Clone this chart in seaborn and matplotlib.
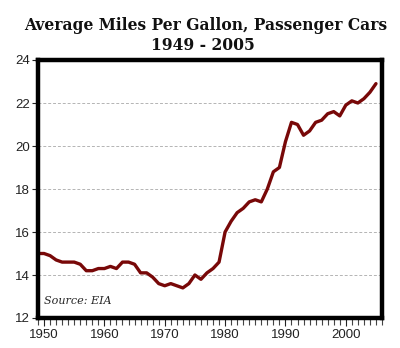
import matplotlib
matplotlib.use("Agg")
import matplotlib.pyplot as plt
import seaborn as sns
import pandas as pd
from matplotlib.ticker import MultipleLocator

years = list(range(1949, 2006))
mpg = [15.0, 15.0, 14.9, 14.7, 14.6, 14.6, 14.6, 14.5, 14.2, 14.2,
       14.3, 14.3, 14.4, 14.3, 14.6, 14.6, 14.5, 14.1, 14.1, 13.9,
       13.6, 13.5, 13.6, 13.5, 13.4, 13.6, 14.0, 13.8, 14.1, 14.3,
       14.6, 16.0, 16.5, 16.9, 17.1, 17.4, 17.5, 17.4, 18.0, 18.8,
       19.0, 20.2, 21.1, 21.0, 20.5, 20.7, 21.1, 21.2, 21.5, 21.6,
       21.4, 21.9, 22.1, 22.0, 22.2, 22.5, 22.9]
yticks = [12, 14, 16, 18, 20, 22, 24]
xticks = [1950, 1960, 1970, 1980, 1990, 2000]

df = pd.DataFrame({"year": years, "mpg": mpg})

sns.set_style("white")
plt.rcParams["font.family"] = ["Liberation Sans", "DejaVu Sans"]

fig = plt.figure(figsize=(4.0, 3.48), dpi=100)
ax = fig.add_axes([38 / 400, 1 - 318 / 348, 344 / 400, 258 / 348])

sns.lineplot(data=df, x="year", y="mpg", ax=ax, color="#780808",
             linewidth=2.4, solid_joinstyle="round")

ax.set_xlim(1949, 2006)
ax.set_ylim(12, 24)
ax.set_yticks(yticks)
ax.set_xticks(xticks)
ax.xaxis.set_minor_locator(MultipleLocator(1))
ax.set_xlabel("")
ax.set_ylabel("")

for y in yticks[1:-1]:
    ax.axhline(y, color="#b4b4b4", linewidth=0.7, linestyle=(0, (3, 2)), zorder=0)

for s in ax.spines.values():
    s.set_linewidth(3.2)
    s.set_color("black")

ax.tick_params(axis="y", which="major", direction="out", length=4.5, width=0.8,
               left=True, labelsize=9.5, pad=1.5, colors="#222222")
ax.tick_params(axis="x", which="major", direction="out", length=6, width=0.8,
               bottom=True, labelsize=9.5, pad=2, colors="#222222")
ax.tick_params(axis="x", which="minor", direction="out", length=5, width=0.8,
               bottom=True, color="#444444")

ax.text(0.017, 0.045, "Source: EIA", transform=ax.transAxes, fontsize=8,
        fontstyle="italic", family="DejaVu Serif", ha="left", va="bottom")

fig.text(0.515, 1 - 25 / 348, "Average Miles Per Gallon, Passenger Cars",
         ha="center", va="center", fontsize=11.2, fontweight="bold",
         family="DejaVu Serif", color="#111111")
fig.text(0.508, 1 - 45 / 348, "1949 - 2005", ha="center", va="center",
         fontsize=11.2, fontweight="bold", family="DejaVu Serif", color="#111111")

fig.savefig("out.png", dpi=100)
